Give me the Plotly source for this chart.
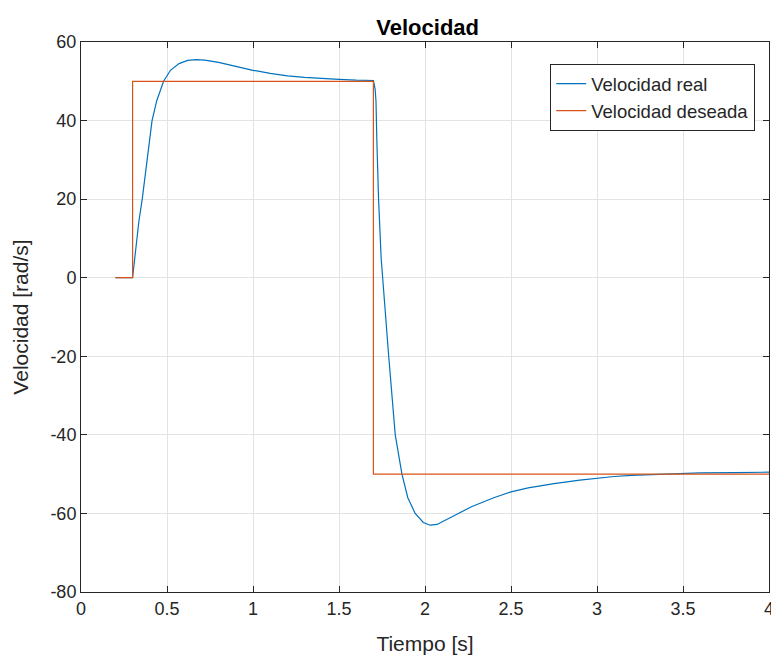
import plotly.graph_objects as go

# Desired velocity (step reference)
t_des = [0.2, 0.3, 0.3, 1.7, 1.7, 4.0]
v_des = [0, 0, 50, 50, -50, -50]

# Real velocity
t_real = [0.2, 0.3, 0.305, 0.318, 0.337, 0.356, 0.385, 0.413, 0.44, 0.48, 0.52, 0.57,
          0.62, 0.67, 0.72, 0.8, 0.9, 1.0, 1.1, 1.2, 1.3, 1.4, 1.5, 1.6, 1.7,
          1.71, 1.715, 1.72, 1.73, 1.745, 1.76, 1.789, 1.827, 1.866, 1.90, 1.943,
          1.99, 2.03, 2.07, 2.15, 2.27, 2.4, 2.5, 2.6, 2.75, 2.9, 3.0, 3.1, 3.2,
          3.4, 3.6, 3.8, 4.0]
v_real = [0, 0, 2, 7, 14.5, 20, 30, 40, 45, 50, 52.8, 54.5,
          55.3, 55.5, 55.4, 54.8, 53.8, 52.8, 52.0, 51.4, 51.0, 50.7, 50.5, 50.3, 50.2,
          48, 45, 35, 20, 5, -4, -20, -40, -50, -56, -60,
          -62.3, -63, -62.8, -61, -58.3, -56, -54.5, -53.5, -52.4, -51.5, -51, -50.6, -50.3,
          -50, -49.7, -49.6, -49.5]

x_ticks = [0, 0.5, 1, 1.5, 2, 2.5, 3, 3.5, 4]
x_tick_labels = ["0", "0.5", "1", "1.5", "2", "2.5", "3", "3.5", "4"]
y_ticks = [-80, -60, -40, -20, 0, 20, 40, 60]
y_tick_labels = ["-80", "-60", "-40", "-20", "0", "20", "40", "60"]

FONT = "Liberation Sans, Arial, Helvetica"

fig = go.Figure()
fig.add_trace(go.Scatter(x=t_real, y=v_real, mode="lines", name="Velocidad real",
                         line=dict(color="#0072BD", width=1.2)))
fig.add_trace(go.Scatter(x=t_des, y=v_des, mode="lines", name="Velocidad deseada",
                         line=dict(color="#D95319", width=1.2)))

axis_common = dict(
    showline=True, linecolor="#262626", linewidth=1, mirror="ticks",
    ticks="inside", ticklen=6, tickcolor="#262626",
    showgrid=True, gridcolor="#e3e3e3", gridwidth=1, zeroline=False,
    automargin=False, ticklabeloverflow="allow",
    tickfont=dict(family=FONT, size=18, color="#262626"),
)

# page has an 8px body margin; figure sized so the visible area is used
fig.update_layout(
    width=763, height=653,
    paper_bgcolor="white", plot_bgcolor="white",
    margin=dict(l=73, r=2, t=34, b=69),
    title=dict(text="<b>Velocidad</b>", xref="container", x=0.55, xanchor="center",
               yref="container", y=0.971, yanchor="middle",
               font=dict(family=FONT, size=22, color="#000000")),
    showlegend=True,
    legend=dict(x=0.98, y=0.96, xanchor="right", yanchor="top",
                bordercolor="#262626", borderwidth=1, bgcolor="white",
                font=dict(family=FONT, size=18.5, color="#262626"),
                tracegroupgap=0),
    xaxis=dict(range=[0, 4], tickvals=x_ticks, ticktext=x_tick_labels,
               title=dict(text="Tiempo [s]", standoff=18,
                          font=dict(family=FONT, size=21, color="#262626")),
               **axis_common),
    yaxis=dict(range=[-80, 60], tickvals=y_ticks, ticktext=y_tick_labels,
               title=dict(text="Velocidad [rad/s]", standoff=16,
                          font=dict(family=FONT, size=21, color="#262626")),
               **axis_common),
)

fig.write_html("out.html")
